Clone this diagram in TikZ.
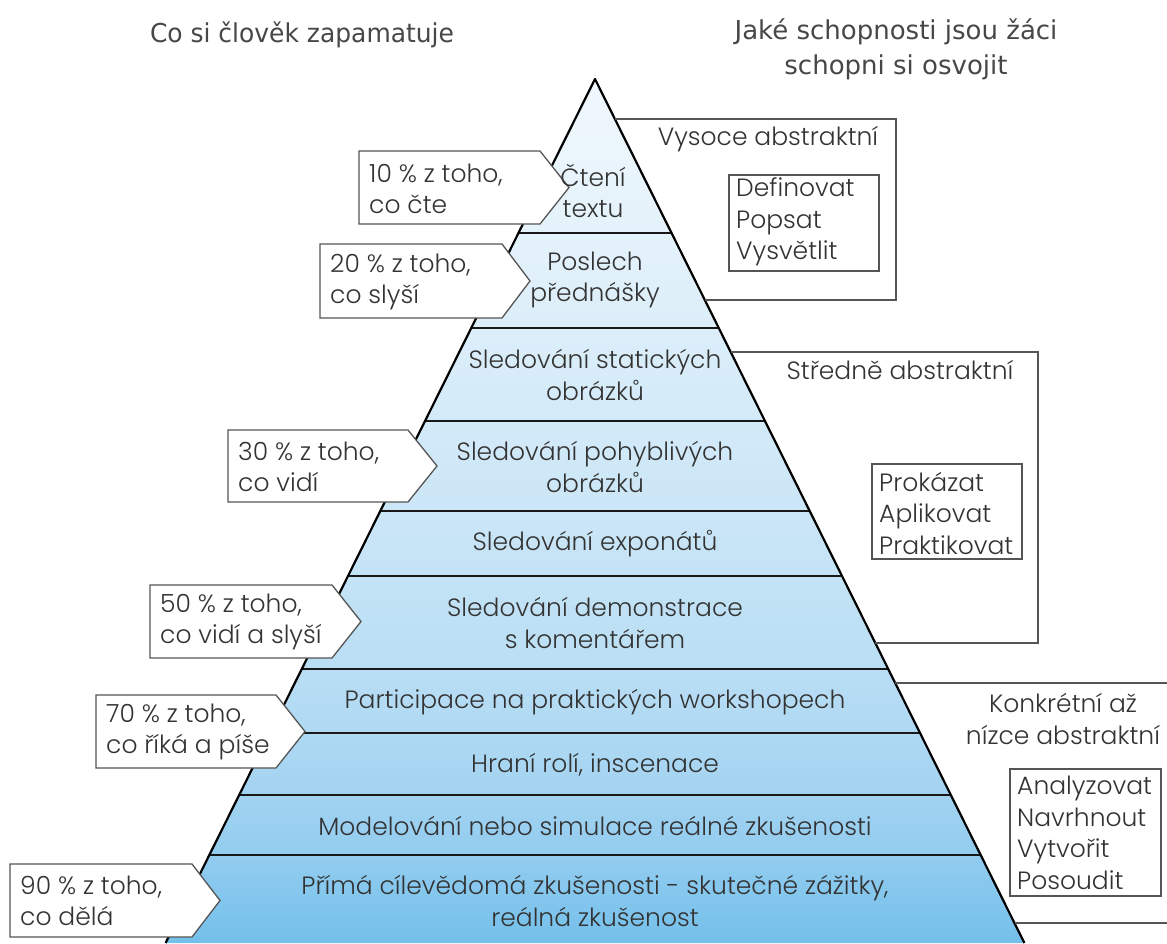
\documentclass[tikz,border=0pt]{standalone}
\usepackage{fontspec}
\usepackage{graphicx}
\setmainfont{Poppins}[UprightFont={* Light}]
\newfontfamily\hdfont{DejaVu Sans}
\definecolor{txt}{HTML}{333333}
\definecolor{frm}{HTML}{555555}
\definecolor{c0}{HTML}{F0F8FD}
\definecolor{c1}{HTML}{E4F2FB}
\definecolor{c2}{HTML}{DCEEFA}
\definecolor{c3}{HTML}{D3EAF8}
\definecolor{c4}{HTML}{CBE6F7}
\definecolor{c5}{HTML}{C4E3F6}
\definecolor{c6}{HTML}{B9DEF4}
\definecolor{c7}{HTML}{AFD9F3}
\definecolor{c8}{HTML}{A2D3F1}
\definecolor{c9}{HTML}{92CCEF}
\definecolor{c10}{HTML}{74C0EB}
\begin{document}
\begin{tikzpicture}[x=1pt,y=-1pt,
  lbl/.style={text=txt, font=\fontsize{25}{31.5}\selectfont, align=center, inner sep=0pt},
  lbll/.style={lbl, align=left, anchor=west},
  hd/.style={text=txt!90, font=\hdfont\fontsize{26}{35}\selectfont, align=center, inner sep=0pt},
  sep/.style={draw=black!90, line width=2.5pt},
  edge/.style={draw=black, line width=2.2pt, line join=round},
  callout/.style={draw=frm, fill=white, line width=1.3pt},
  frame/.style={draw=frm, line width=1.3pt}]
\useasboundingbox (0,0) rectangle (1167,943);
\clip (0,0) rectangle (1167,943);
% bands
\shade[top color=c0, bottom color=c1] (595,79) -- (671.5,233) -- (518.5,233) -- cycle;
\shade[top color=c1, bottom color=c2] (518.5,233) -- (671.5,233) -- (718.8,328) -- (471.2,328) -- cycle;
\shade[top color=c2, bottom color=c3] (471.2,328) -- (718.8,328) -- (765.0,421) -- (425.0,421) -- cycle;
\shade[top color=c3, bottom color=c4] (425.0,421) -- (765.0,421) -- (809.7,511) -- (380.3,511) -- cycle;
\shade[top color=c4, bottom color=c5] (380.3,511) -- (809.7,511) -- (842.0,576) -- (348.0,576) -- cycle;
\shade[top color=c5, bottom color=c6] (348.0,576) -- (842.0,576) -- (888.2,669) -- (301.8,669) -- cycle;
\shade[top color=c6, bottom color=c7] (301.8,669) -- (888.2,669) -- (920.0,733) -- (270.0,733) -- cycle;
\shade[top color=c7, bottom color=c8] (270.0,733) -- (920.0,733) -- (950.9,795) -- (239.1,795) -- cycle;
\shade[top color=c8, bottom color=c9] (239.1,795) -- (950.9,795) -- (980.7,855) -- (209.3,855) -- cycle;
\shade[top color=c9, bottom color=c10] (209.3,855) -- (980.7,855) -- (1024.4,943) -- (165.6,943) -- cycle;
% separators
\draw[sep] (518.5,233) -- (671.5,233);
\draw[sep] (471.2,328) -- (718.8,328);
\draw[sep] (425.0,421) -- (765.0,421);
\draw[sep] (380.3,511) -- (809.7,511);
\draw[sep] (348.0,576) -- (842.0,576);
\draw[sep] (301.8,669) -- (888.2,669);
\draw[sep] (270.0,733) -- (920.0,733);
\draw[sep] (239.1,795) -- (950.9,795);
\draw[sep] (209.3,855) -- (980.7,855);
% outline
\coordinate (apex) at (595,79);
\coordinate (bl) at (165.6,943);
\coordinate (br) at (1024.4,943);
\draw[edge] (bl) -- (apex) -- (br);
% right frames
\draw[frame] (614.9,119) -- (896,119) -- (896,300) -- (704.8,300);
\draw[frame] (730.7,352) -- (1038,352) -- (1038,643) -- (875.3,643);
\draw[frame] (895.2,683) -- (1167,683);
\draw[frame] (1014.5,923) -- (1167,923);
\draw[frame] (729,175) rectangle (879,271);
\draw[frame] (872,464) rectangle (1022,559);
\draw[frame] (1010,769) rectangle (1161,896);
% callouts
\draw[callout] (359,151) -- (540,151) -- (569,187.5) -- (540,224) -- (359,224) -- cycle;
\draw[callout] (320,244) -- (502,244) -- (530,281) -- (502,318) -- (320,318) -- cycle;
\draw[callout] (228,430) -- (408,430) -- (437,466) -- (408,502) -- (228,502) -- cycle;
\draw[callout] (150,585) -- (332,585) -- (361,621.5) -- (332,658) -- (150,658) -- cycle;
\draw[callout] (96,695) -- (276,695) -- (305,731.5) -- (276,768) -- (96,768) -- cycle;
\draw[callout] (10,864) -- (192,864) -- (220,900.5) -- (192,937) -- (10,937) -- cycle;
\node[lbll] (p10) at (369,189) {10 \% z toho,\\co čte};
\node[lbll] (p20) at (330,282) {20 \% z toho,\\co slyší};
\node[lbll] (p30) at (238,467) {30 \% z toho,\\co vidí};
\node[lbll] (p50) at (160,622) {50 \% z toho,\\co vidí a slyší};
\node[lbll] (p70) at (106,732) {70 \% z toho,\\co říká a píše};
\node[lbll] (p90) at (20,901) {90 \% z toho,\\co dělá};
% headers
\node[hd] (h1) at (302,35) {\scalebox{0.96}[1]{Co si člověk zapamatuje}};
\node[hd] (h2) at (896,49) {\scalebox{1.0}[1]{Jaké schopnosti jsou žáci}\\\scalebox{1.0}[1]{schopni si osvojit}};
% band labels
\node[lbl] (b1) at (593,191) {Čtení\\textu};
\node[lbl] (b2) at (595,280) {Poslech\\přednášky};
\node[lbl] (b3) at (595,375) {Sledování statických\\obrázků};
\node[lbl] (b4) at (595,467) {Sledování pohyblivých\\obrázků};
\node[lbl] (b5) at (595,544) {Sledování exponátů};
\node[lbl] (b6) at (595,623) {Sledování demonstrace\\s komentářem};
\node[lbl] (b7) at (595,702) {Participace na praktických workshopech};
\node[lbl] (b8) at (595,765) {Hraní rolí, inscenace};
\node[lbl] (b9) at (595,826) {Modelování nebo simulace reálné zkušenosti};
\node[lbl] (b10) at (595,901) {Přímá cílevědomá zkušenosti - skutečné zážitky,\\reálná zkušenost};
% right labels
\node[lbl] (r1) at (768,139) {Vysoce abstraktní};
\node[lbll] (r1i) at (736,222) {Definovat\\Popsat\\Vysvětlit};
\node[lbl] (r2) at (900,370) {Středně abstraktní};
\node[lbll] (r2i) at (879,513) {Prokázat\\Aplikovat\\Praktikovat};
\node[lbl] (r3) at (1063,719) {Konkrétní až\\nízce abstraktní};
\node[lbll] (r3i) at (1017,833) {Analyzovat\\Navrhnout\\Vytvořit\\Posoudit};
\end{tikzpicture}
\end{document}
